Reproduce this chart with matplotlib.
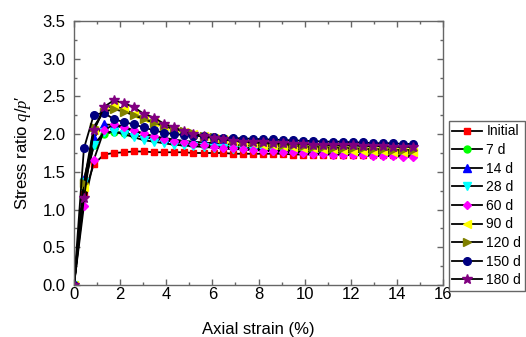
import matplotlib
matplotlib.use("Agg")
import matplotlib.pyplot as plt
from matplotlib.ticker import MultipleLocator, FormatStrFormatter

plt.rcParams['font.family'] = ['Liberation Sans', 'DejaVu Sans']
plt.rcParams['mathtext.fontset'] = 'custom'
plt.rcParams['mathtext.it'] = 'Liberation Serif:italic'
plt.rcParams['mathtext.rm'] = 'Liberation Serif'

strain = [0, 0.43, 0.86, 1.30, 1.73, 2.16, 2.59, 3.02, 3.46, 3.89, 4.32, 4.75,
          5.18, 5.62, 6.05, 6.48, 6.91, 7.34, 7.78, 8.21, 8.64, 9.07, 9.50, 9.94,
          10.37, 10.80, 11.23, 11.66, 12.10, 12.53, 12.96, 13.39, 13.82, 14.26, 14.69]

initial = [0, 1.20, 1.60, 1.73, 1.75, 1.76, 1.77, 1.77, 1.76, 1.76, 1.76, 1.76,
           1.75, 1.75, 1.75, 1.75, 1.74, 1.74, 1.74, 1.74, 1.74, 1.74, 1.73, 1.73,
           1.73, 1.73, 1.73, 1.73, 1.73, 1.72, 1.72, 1.72, 1.72, 1.72, 1.72]
d7 = [0, 1.30, 1.85, 2.00, 2.03, 2.02, 1.99, 1.96, 1.94, 1.92, 1.90, 1.88,
      1.87, 1.86, 1.85, 1.84, 1.83, 1.82, 1.82, 1.81, 1.81, 1.80, 1.80, 1.80,
      1.79, 1.79, 1.79, 1.78, 1.78, 1.78, 1.78, 1.77, 1.77, 1.77, 1.77]
d14 = [0, 1.40, 1.95, 2.13, 2.12, 2.08, 2.04, 2.00, 1.97, 1.95, 1.93, 1.91,
       1.90, 1.89, 1.88, 1.87, 1.86, 1.85, 1.85, 1.84, 1.84, 1.83, 1.83, 1.82,
       1.82, 1.82, 1.81, 1.81, 1.81, 1.80, 1.80, 1.80, 1.80, 1.79, 1.79]
d28 = [0, 1.36, 1.85, 2.03, 2.03, 2.00, 1.96, 1.92, 1.90, 1.88, 1.86, 1.85,
       1.84, 1.83, 1.82, 1.81, 1.80, 1.80, 1.79, 1.79, 1.78, 1.78, 1.78, 1.77,
       1.77, 1.77, 1.76, 1.76, 1.76, 1.76, 1.75, 1.75, 1.75, 1.75, 1.75]
d60 = [0, 1.05, 1.66, 2.05, 2.13, 2.10, 2.05, 2.01, 1.97, 1.94, 1.91, 1.89,
       1.87, 1.85, 1.83, 1.82, 1.81, 1.80, 1.79, 1.78, 1.77, 1.76, 1.76, 1.75,
       1.74, 1.74, 1.73, 1.73, 1.72, 1.72, 1.71, 1.71, 1.71, 1.70, 1.70]
d90 = [0, 1.30, 2.05, 2.33, 2.38, 2.33, 2.27, 2.21, 2.16, 2.11, 2.07, 2.03,
       2.00, 1.97, 1.95, 1.93, 1.91, 1.89, 1.88, 1.86, 1.85, 1.84, 1.83, 1.82,
       1.81, 1.80, 1.80, 1.79, 1.78, 1.78, 1.77, 1.77, 1.76, 1.76, 1.76]
d120 = [0, 1.35, 2.10, 2.30, 2.33, 2.30, 2.25, 2.20, 2.15, 2.11, 2.07, 2.04,
        2.01, 1.98, 1.96, 1.94, 1.92, 1.91, 1.89, 1.88, 1.87, 1.86, 1.85, 1.84,
        1.83, 1.83, 1.82, 1.82, 1.81, 1.81, 1.80, 1.80, 1.79, 1.79, 1.79]
d150 = [0, 1.81, 2.26, 2.28, 2.20, 2.16, 2.13, 2.09, 2.05, 2.02, 2.00, 1.99,
        1.98, 1.97, 1.96, 1.95, 1.95, 1.94, 1.94, 1.93, 1.93, 1.92, 1.92, 1.91,
        1.91, 1.90, 1.90, 1.90, 1.89, 1.89, 1.88, 1.88, 1.88, 1.87, 1.87]
d180 = [0, 1.15, 2.05, 2.36, 2.45, 2.41, 2.36, 2.27, 2.22, 2.14, 2.09, 2.04,
        2.00, 1.97, 1.95, 1.93, 1.91, 1.90, 1.89, 1.89, 1.88, 1.88, 1.87, 1.87,
        1.86, 1.86, 1.85, 1.85, 1.85, 1.84, 1.84, 1.84, 1.83, 1.83, 1.83]

labels = ['Initial', '7 d', '14 d', '28 d', '60 d', '90 d', '120 d', '150 d', '180 d']
series = [initial, d7, d14, d28, d60, d90, d120, d150, d180]
colors = ['#FF0000', '#00FF00', '#0000FF', '#00FFFF', '#FF00FF', '#FFFF00',
          '#808000', '#000080', '#800080']
markers = ['s', 'o', '^', 'v', 'D', '<', '>', 'o', '*']
msizes = [4.5, 5, 5.5, 5.5, 4.5, 5.5, 5.5, 5.5, 7]

fig = plt.figure(figsize=(5.26, 3.37), dpi=100)
ax = fig.add_axes([74/526, 1-285/337, (443-74)/526, (285-21)/337])

for y, lab, c, m, ms in zip(series, labels, colors, markers, msizes):
    ax.plot(strain, y, color='black', lw=1.3, marker=m, markersize=ms,
            markerfacecolor=c, markeredgecolor=c, label=lab)

ax.set_xlim(0, 16)
ax.set_ylim(0, 3.5)
ax.xaxis.set_major_locator(MultipleLocator(2))
ax.xaxis.set_minor_locator(MultipleLocator(1))
ax.yaxis.set_major_locator(MultipleLocator(0.5))
ax.yaxis.set_minor_locator(MultipleLocator(0.25))
ax.yaxis.set_major_formatter(FormatStrFormatter('%.1f'))

spc = '#666666'
for s in ax.spines.values():
    s.set_color(spc)
    s.set_linewidth(1.0)
ax.tick_params(which='both', direction='in', top=True, right=True, color=spc,
               labelsize=12, labelcolor='black', width=1.0)
ax.tick_params(which='major', length=4)
ax.tick_params(which='minor', length=2.5)
ax.tick_params(axis='x', which='major', pad=1.5)
ax.tick_params(axis='y', which='major', pad=6)

ax.set_xlabel('Axial strain (%)', fontsize=12)
ax.set_ylabel("Stress ratio $q$/$p$\u2032", fontsize=12)
ax.xaxis.set_label_coords(0.5, -0.14)
ax.yaxis.set_label_coords(-0.11, 0.5)

leg = fig.legend(loc='upper left', bbox_to_anchor=(449/526, 1-121/337),
                 borderaxespad=0, fontsize=10, frameon=True, fancybox=False,
                 edgecolor=spc, handlelength=2.1, handletextpad=0.35,
                 labelspacing=0.33, borderpad=0.25, framealpha=1)
leg.get_frame().set_linewidth(1.0)

fig.savefig('out.png', dpi=100)
